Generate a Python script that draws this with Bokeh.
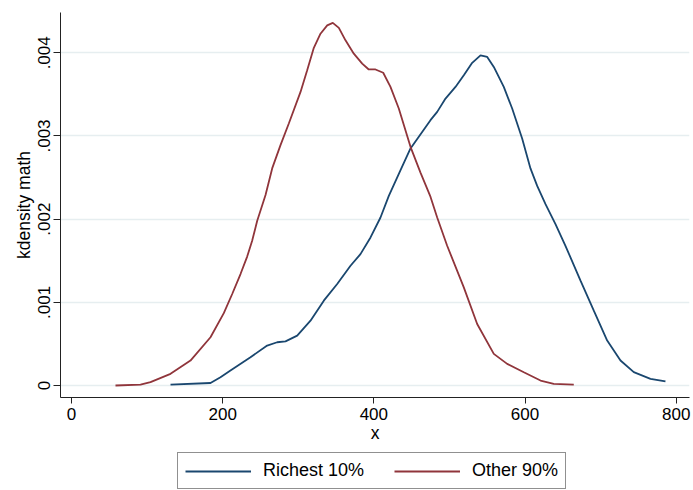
from bokeh.plotting import figure
from bokeh.layouts import column
from bokeh.models import (Range1d, FixedTicker, CustomJSTickFormatter, Legend, LegendItem)
from bokeh.embed import file_html
from bokeh.resources import INLINE

# ---- data ----
rich_x = [131, 183.9, 197.1, 210.3, 236.8, 258.9, 272.1, 283.1, 298.6, 316.2, 333.8, 351.5,
          369.1, 382.3, 395.6, 408.8, 419.8, 435.3, 448.5, 474.9, 483.8, 494.8, 508, 519,
          530.1, 541.1, 550, 558.7, 571.9, 583, 596.2, 607.2, 616.1, 627.1, 640.3, 653.5,
          673.4, 691, 708.7, 726.3, 743.9, 766, 785.8]
rich_y = [0.00001, 0.00003, 0.0001, 0.00018, 0.00034, 0.00048, 0.00052, 0.00053, 0.0006, 0.00078,
          0.00102, 0.00122, 0.00144, 0.00158, 0.00178, 0.00202, 0.00228, 0.00259, 0.00285,
          0.00319, 0.00329, 0.00345, 0.00359, 0.00373, 0.00388, 0.00397, 0.00395, 0.00383,
          0.00359, 0.00333, 0.00297, 0.00261, 0.0024, 0.00218, 0.00194, 0.00168, 0.00126,
          0.0009, 0.00054, 0.0003, 0.00016, 0.00008, 0.00005]

other_x = [58.2, 91.3, 104.5, 131, 157.4, 183.9, 201.5, 212.6, 223.6, 232.4, 239, 245.7, 256.7,
           265.5, 276.5, 287.5, 303, 311.8, 320.6, 329.4, 338.3, 345.7, 353.7, 362.5, 373.5,
           384.6, 393.3, 402.2, 412.4, 422, 433, 448.5, 461.7, 474.9, 483.8, 497, 519, 536.7,
           558.7, 576.4, 598.4, 620.5, 638, 664.5]
other_y = [0.0, 0.00001, 0.00004, 0.00014, 0.0003, 0.00058, 0.00087, 0.0011, 0.00134, 0.00155,
           0.00174, 0.00198, 0.00229, 0.00261, 0.00289, 0.00315, 0.00353, 0.00379, 0.00406,
           0.00423, 0.00433, 0.00436, 0.0043, 0.00415, 0.00399, 0.00387, 0.0038, 0.0038,
           0.00376, 0.00359, 0.00333, 0.00287, 0.00256, 0.00227, 0.00202, 0.00168, 0.00118,
           0.00074, 0.00038, 0.00026, 0.00016, 0.00006, 0.00002, 0.00001]

x_ticks = [0, 200, 400, 600, 800]
y_ticks = [0, 0.001, 0.002, 0.003, 0.004]
series_names = ["Richest 10%", "Other 90%"]
series_colors = ["#1A476F", "#90353B"]

FONT = "Liberation Sans"

p = figure(width=693, height=450, output_backend="svg", toolbar_location=None,
           x_range=Range1d(-14.55, 817.6), y_range=Range1d(-0.0001443, 0.0044848),
           min_border_left=60, min_border_right=4, min_border_top=12, min_border_bottom=53)
p.outline_line_color = None
p.background_fill_color = "white"
p.border_fill_color = "white"

p.line(rich_x, rich_y, line_color=series_colors[0], line_width=1.8)
p.line(other_x, other_y, line_color=series_colors[1], line_width=1.8)

# grid
p.xgrid.grid_line_color = None
p.ygrid.grid_line_color = "#E6EEF0"
p.ygrid.grid_line_width = 1.3
p.ygrid.ticker = FixedTicker(ticks=y_ticks)

# x axis
xa = p.xaxis[0]
xa.ticker = FixedTicker(ticks=x_ticks)
xa.axis_label = "x"
xa.axis_label_text_font = FONT
xa.axis_label_text_font_size = "17.5px"
xa.axis_label_text_font_style = "normal"
xa.axis_label_text_color = "black"
xa.axis_label_standoff = 0
xa.major_label_text_font = FONT
xa.major_label_text_font_size = "17px"
xa.major_label_text_color = "black"
xa.major_label_standoff = 4
xa.major_tick_out = 6
xa.major_tick_in = 0
xa.minor_tick_out = 0
xa.minor_tick_in = 0
xa.axis_line_color = "#222222"
xa.major_tick_line_color = "#222222"

# y axis
ya = p.yaxis[0]
ya.ticker = FixedTicker(ticks=y_ticks)
ya.formatter = CustomJSTickFormatter(code="return tick == 0 ? '0' : tick.toFixed(3).replace(/^0/, '');")
ya.major_label_orientation = "vertical"
ya.axis_label = "kdensity math"
ya.axis_label_text_font = FONT
ya.axis_label_text_font_size = "17.5px"
ya.axis_label_text_font_style = "normal"
ya.axis_label_text_color = "black"
ya.axis_label_standoff = 2
ya.major_label_text_font = FONT
ya.major_label_text_font_size = "17px"
ya.major_label_text_color = "black"
ya.major_label_standoff = 3
ya.major_tick_out = 7
ya.major_tick_in = 0
ya.minor_tick_out = 0
ya.minor_tick_in = 0
ya.axis_line_color = "#222222"
ya.major_tick_line_color = "#222222"

# ---- legend strip below the plot (its frame is aligned with the main plot's frame) ----
# the proxy lines use the same data but lie outside this strip's ranges, so only the
# legend is visible here
p2 = figure(width=693, height=40, output_backend="svg", toolbar_location=None,
            x_range=Range1d(-2, -1), y_range=Range1d(-2, -1),
            x_axis_location=None, y_axis_location=None, min_border=0)
p2.outline_line_color = None
p2.xgrid.grid_line_color = None
p2.ygrid.grid_line_color = None
k1 = p2.line(rich_x, rich_y, line_color=series_colors[0], line_width=1.8)
k2 = p2.line(other_x, other_y, line_color=series_colors[1], line_width=1.8)

legend = Legend(items=[LegendItem(label=series_names[0], renderers=[k1]),
                       LegendItem(label=series_names[1], renderers=[k2])],
                orientation="horizontal", location=(117, 1),
                label_text_font=FONT, label_text_font_size="18px", label_text_color="black",
                glyph_width=66, glyph_height=20, label_height=20, label_standoff=12,
                spacing=30, padding=7, margin=0,
                border_line_color="#222222", border_line_width=1,
                background_fill_color="white", background_fill_alpha=1.0)
p2.add_layout(legend, "center")

layout = column(p, p2, spacing=0)
open("out.html", "w").write(file_html(layout, INLINE))
